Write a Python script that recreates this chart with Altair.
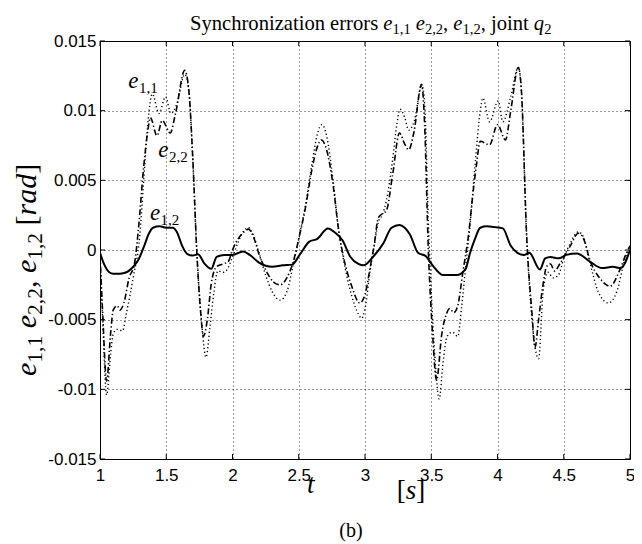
import altair as alt
import pandas as pd

# ---------------- data (rad) ----------------
t_e11 = [1.0, 1.02, 1.05, 1.08, 1.1, 1.13, 1.17, 1.2, 1.25, 1.3, 1.33, 1.36, 1.395, 1.445, 1.495,
         1.535, 1.58, 1.64, 1.67, 1.7, 1.73, 1.77, 1.8, 1.83, 1.86, 1.89, 1.93, 1.96, 2.0, 2.04,
         2.08, 2.12, 2.16, 2.2, 2.25, 2.3, 2.36, 2.41, 2.46, 2.5, 2.55, 2.6, 2.64, 2.675, 2.71,
         2.76, 2.8, 2.84, 2.9, 2.95, 2.975, 3.0, 3.04, 3.07, 3.1, 3.13, 3.16, 3.21, 3.24, 3.265,
         3.3, 3.33, 3.37, 3.43, 3.45, 3.48, 3.5, 3.53, 3.56, 3.59, 3.62, 3.66, 3.7, 3.73, 3.76,
         3.79, 3.83, 3.87, 3.89, 3.94, 4.005, 4.04, 4.1, 4.157, 4.18, 4.22, 4.26, 4.31, 4.345, 4.38,
         4.42, 4.46, 4.5, 4.55, 4.61, 4.65, 4.7, 4.76, 4.836, 4.9, 4.96, 5.0]
v_e11 = [-0.0005, -0.005, -0.0104, -0.0075, -0.006, -0.0057, -0.0058, -0.0045, -0.002, 0.001,
         0.005, 0.009, 0.0112, 0.0098, 0.011, 0.0098, 0.0105, 0.0126, 0.0115, 0.0066,
         0.0, -0.0055, -0.0077, -0.0055, -0.003, -0.0015, -0.0016, -0.0014, -0.0005, 0.0005,
         0.0013, 0.0016, 0.001, -0.0002, -0.0018, -0.003, -0.0036, -0.003, -0.001, 0.0008,
         0.0032, 0.0062, 0.0083, 0.009, 0.0082, 0.0049, 0.0015, -0.0008, -0.0033, -0.0046,
         -0.0049, -0.0042, -0.0014, 0.0003, 0.002, 0.0025, 0.0035, 0.0066, 0.009, 0.0101,
         0.0095, 0.0086, 0.0092, 0.0118, 0.0105, 0.0015, -0.003, -0.008, -0.0107, -0.008,
         -0.0062, -0.0059, -0.0062, -0.004, -0.0012, 0.0015, 0.006, 0.01, 0.0109, 0.0092,
         0.0107, 0.0092, 0.011, 0.0131, 0.0115, 0.001, -0.005, -0.0078, -0.0029, -0.0016,
         -0.002, -0.0018, -0.0006, 0.0005, 0.0013, 0.0009, -0.001, -0.003, -0.0038, -0.003,
         -0.0007, 0.0003]

t_e22 = [1.0, 1.02, 1.05, 1.08, 1.1, 1.13, 1.15, 1.18, 1.22, 1.26, 1.29, 1.33, 1.36, 1.38, 1.43,
         1.47, 1.53, 1.57, 1.64, 1.67, 1.7, 1.73, 1.76, 1.78, 1.81, 1.84, 1.88, 1.93, 1.97, 2.0,
         2.05, 2.1, 2.12, 2.16, 2.2, 2.26, 2.31, 2.36, 2.41, 2.46, 2.5, 2.55, 2.6, 2.64, 2.67,
         2.71, 2.76, 2.8, 2.84, 2.9, 2.96, 3.0, 3.04, 3.07, 3.1, 3.13, 3.16, 3.21, 3.26, 3.3,
         3.33, 3.37, 3.427, 3.45, 3.478, 3.51, 3.54, 3.58, 3.616, 3.64, 3.67, 3.7, 3.74, 3.78, 3.82,
         3.84, 3.87, 3.94, 4.0, 4.06, 4.1, 4.157, 4.18, 4.22, 4.26, 4.283, 4.31, 4.345, 4.37, 4.4,
         4.43, 4.47, 4.55, 4.61, 4.65, 4.7, 4.77, 4.85, 4.92, 4.97, 5.0]
v_e22 = [-0.0003, -0.0045, -0.0094, -0.006, -0.0043, -0.004, -0.0043, -0.0038, -0.002, -0.001,
         0.0015, 0.006, 0.0085, 0.0095, 0.0082, 0.0093, 0.0084, 0.0098, 0.0129, 0.0115,
         0.0066, 0.0, -0.0045, -0.0062, -0.005, -0.0024, -0.0012, -0.001, -0.0008, 0.0,
         0.0009, 0.0014, 0.0015, 0.0009, -0.0003, -0.0016, -0.0023, -0.0025, -0.002, -0.0008,
         0.0008, 0.003, 0.0058, 0.0074, 0.0079, 0.0072, 0.0046, 0.0015, -0.0006, -0.0026,
         -0.0038, -0.0032, -0.0012, 0.0004, 0.0023, 0.0026, 0.0028, 0.0055, 0.0084, 0.0076,
         0.0072, 0.0085, 0.0119, 0.009, 0.0, -0.006, -0.00935, -0.006, -0.00455, -0.0042,
         -0.0045, -0.004, -0.0015, 0.001, 0.0045, 0.006, 0.0078, 0.00755, 0.009, 0.0079,
         0.01, 0.0131, 0.0115, 0.001, -0.0045, -0.007, -0.005, -0.0024, -0.0012, -0.001,
         -0.0015, -0.001, 0.0003, 0.0012, 0.0008, -0.0008, -0.002, -0.0026, -0.0015, -0.0003,
         0.0003]

t_e12 = [1.0, 1.03, 1.07, 1.1, 1.15, 1.2, 1.25, 1.29, 1.33, 1.37, 1.4, 1.45, 1.5, 1.55, 1.58,
         1.62, 1.66, 1.7, 1.74, 1.79, 1.84, 1.88, 1.94, 2.0, 2.08, 2.13, 2.2, 2.3, 2.38, 2.45,
         2.51, 2.58, 2.64, 2.72, 2.78, 2.83, 2.89, 2.95, 2.99, 3.06, 3.14, 3.2, 3.26, 3.3, 3.34,
         3.4, 3.46, 3.51, 3.59, 3.69, 3.76, 3.79, 3.83, 3.87, 3.92, 3.97, 4.04, 4.1, 4.15, 4.2,
         4.24, 4.32, 4.36, 4.4, 4.46, 4.52, 4.6, 4.7, 4.79, 4.87, 4.93, 5.0]
v_e12 = [-0.0002, -0.001, -0.0016, -0.0017, -0.0017, -0.0016, -0.0012, -0.0007, 0.0002, 0.0012,
         0.0016, 0.0017, 0.0016, 0.0016, 0.0013, 0.0003, -0.0003, -0.0004, -0.0003, -0.001,
         -0.00135, -0.0005, -0.00035, -0.00035, -0.0001, -0.00035, -0.0009, -0.0012, -0.0011, -0.00105,
         -0.0003, 0.0006, 0.0008, 0.00155, 0.0012, 0.0007, -0.0005, -0.001, -0.0011, -0.0005,
         0.0005, 0.0016, 0.0018, 0.0016, 0.0011, -0.0002, -0.00045, -0.0011, -0.0018, -0.0018,
         -0.00135, -0.0003, 0.0008, 0.0016, 0.0017, 0.00165, 0.00155, 0.0003, -0.0002, -0.00035,
         -0.0002, -0.0014, -0.0006, -0.0005, -0.0006, -0.00035, -0.00025, -0.00085, -0.0013, -0.0012,
         -0.0013, 0.0]

x_ticks = [1, 1.5, 2, 2.5, 3, 3.5, 4, 4.5, 5]
y_ticks = [-0.015, -0.01, -0.005, 0, 0.005, 0.01, 0.015]

label_t = [1.214, 1.44, 1.377]
label_v = [0.01163, 0.00671, 0.00216]
label_sub = ["1,1", "2,2", "1,2"]

# ---------------- layout / style ----------------
W, H = 530, 418
SERIF = "Liberation Serif"
SANS = "Liberation Sans"

ROMAN = {"S": 556, "y": 500, "n": 500, "c": 444, "h": 500, "r": 333, "o": 500, "i": 278,
         "z": 444, "a": 444, "t": 278, " ": 250, "e": 444, "s": 389, ",": 250, "j": 278,
         "q": 500, "[": 333, "]": 333, "(": 333, ")": 333, "b": 500, "d": 500,
         "0": 500, "1": 500, "2": 500}
ITALIC = {"e": 444, "q": 500, "r": 389, "a": 500, "d": 500, "t": 278, "s": 389}

dummy = pd.DataFrame({"k": [0]})


def text_width(text, style, size):
    table = ITALIC if style == "i" else ROMAN
    return sum(table[c] for c in text) * size / 1000.0


def rich(pieces, x, y, F, S, sub_shift, angle=None):
    layers = []
    pos = 0.0
    for text, style in pieces:
        size = S if style == "s" else F
        shift = sub_shift if style == "s" else 0
        if text.strip():
            props = dict(align="left", baseline="alphabetic", font=SERIF, fontSize=size,
                         fontStyle="italic" if style == "i" else "normal", color="black")
            if angle is None:
                enc = dict(x=alt.value(x + pos), y=alt.value(y + shift))
            else:
                props.update(angle=angle, dx=pos, dy=shift)
                enc = dict(x=alt.value(x), y=alt.value(y))
            layers.append(alt.Chart(dummy).mark_text(**props).encode(text=alt.value(text), **enc))
        pos += text_width(text, style, size)
    return layers


axis_x = alt.Axis(values=x_ticks, title=None, labelExpr="toString(datum.value)",
                  labelFlush=False, labelOverlap=False, labelPadding=8, grid=True)
axis_y = alt.Axis(values=y_ticks, title=None, labelExpr="toString(datum.value)",
                  labelFlush=False, labelOverlap=False, labelPadding=4, grid=True)
xs = alt.Scale(domain=[1, 5], nice=False, zero=False)
ys = alt.Scale(domain=[-0.015, 0.015], nice=False, zero=False)


def xenc(f="t"):
    return alt.X(f"{f}:Q", scale=xs, axis=axis_x)


def yenc(f="v"):
    return alt.Y(f"{f}:Q", scale=ys, axis=axis_y)


def line_layer(t, v, width, dash=None):
    props = dict(color="black", strokeWidth=width, interpolate="monotone", clip=True)
    if dash is not None:
        props["strokeDash"] = dash
    df = pd.DataFrame({"t": t, "v": v})
    return alt.Chart(df).mark_line(**props).encode(x=xenc(), y=yenc())


layers = []
layers.append(line_layer(t_e11, v_e11, 1.4, [1.2, 2.6]))
layers.append(line_layer(t_e22, v_e22, 1.6, [6, 2.5, 1.3, 2.5]))
layers.append(line_layer(t_e12, v_e12, 2.0))

# inward ticks (MATLAB style box)
xt = pd.DataFrame({"t": x_ticks})
yt = pd.DataFrame({"v": y_ticks})
layers.append(alt.Chart(xt).mark_rule(color="black").encode(x=xenc(), y=alt.value(H), y2=alt.value(H - 5)))
layers.append(alt.Chart(xt).mark_rule(color="black").encode(x=xenc(), y=alt.value(0), y2=alt.value(5)))
layers.append(alt.Chart(yt).mark_rule(color="black").encode(y=yenc(), x=alt.value(0), x2=alt.value(5)))
layers.append(alt.Chart(yt).mark_rule(color="black").encode(y=yenc(), x=alt.value(W), x2=alt.value(W - 5)))

# curve labels e_{i,j}
lab_df = pd.DataFrame({"t": label_t, "v": label_v, "sub": label_sub})
layers.append(alt.Chart(lab_df).mark_text(align="left", baseline="alphabetic", font=SERIF, fontSize=23,
                                          fontStyle="italic", color="black")
              .encode(x=xenc(), y=yenc(), text=alt.value("e")))
layers.append(alt.Chart(lab_df).mark_text(align="left", baseline="alphabetic", font=SERIF, fontSize=15,
                                          color="black", dx=10.6, dy=5)
              .encode(x=xenc(), y=yenc(), text="sub:N"))

# title
layers += rich([("Synchronization errors ", "r"), ("e", "i"), ("1,1", "s"), (" ", "r"),
                ("e", "i"), ("2,2", "s"), (",", "r"), (" ", "r"), ("e", "i"), ("1,2", "s"),
                (", joint", "r"), (" ", "r"), ("q", "i"), ("2", "s")],
               x=90, y=-11, F=20.6, S=14.5, sub_shift=4)

# y-axis title (rotated)
layers += rich([("e", "i"), ("1,1", "s"), (" ", "r"), ("e", "i"), ("2,2", "s"), (",", "r"),
                (" ", "r"), ("e", "i"), ("1,2", "s"), (" ", "r"), ("[", "r"), ("rad", "i"),
                ("]", "r")],
               x=-64, y=335, F=30, S=21.5, sub_shift=6, angle=270)

# x-axis title
layers += rich([("t", "i")], x=207, y=H + 34, F=27, S=18, sub_shift=0)
layers += rich([("[", "r"), ("s", "i"), ("]", "r")], x=296.7, y=H + 40, F=27, S=18, sub_shift=0)

# caption
layers.append(alt.Chart(dummy).mark_text(align="center", baseline="alphabetic", font=SERIF,
                                         fontSize=20, color="black")
              .encode(x=alt.value(251), y=alt.value(H + 78), text=alt.value("(b)")))

chart = alt.layer(*layers).properties(
    width=W, height=H,
    padding={"left": 92, "top": 33, "right": 4, "bottom": 85},
    autosize=alt.AutoSizeParams(type="none"),
    background="white",
).configure_view(
    stroke="black", strokeWidth=1
).configure_axis(
    domain=False, ticks=False, grid=True, gridColor="#000000", gridOpacity=0.8,
    gridDash=[1, 3], gridWidth=1,
    labelFont=SANS, labelFontSize=17, labelColor="black"
)

chart.save("out.html", embed_options={"renderer": "svg", "actions": False})
